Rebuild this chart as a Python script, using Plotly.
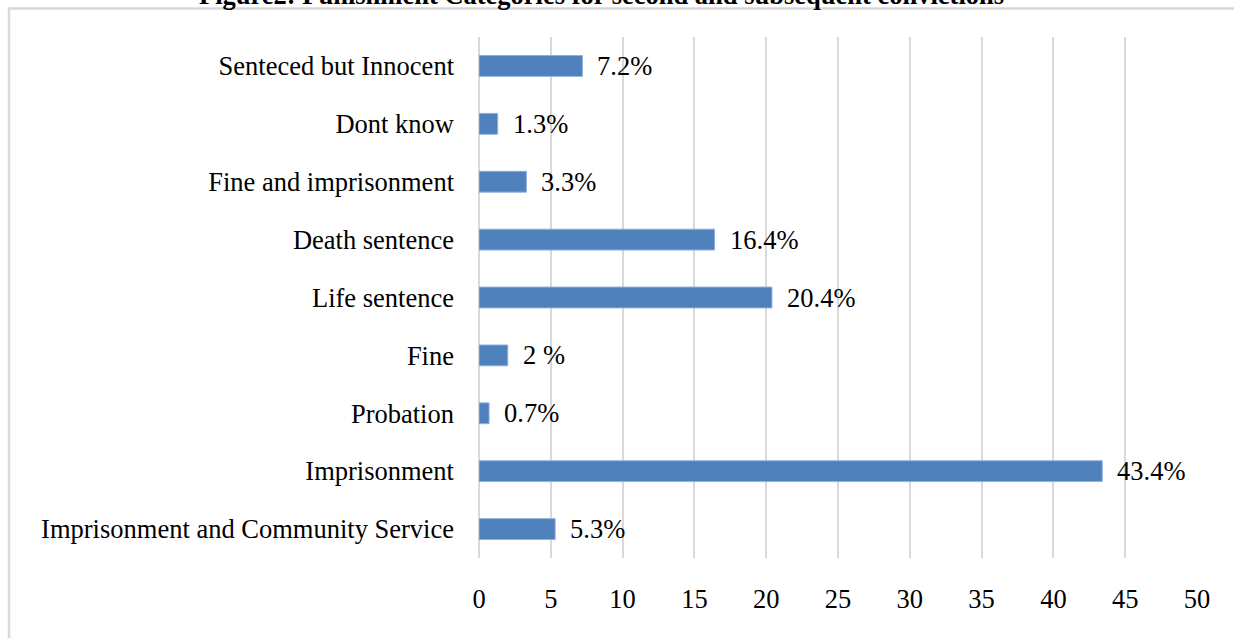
import plotly.graph_objects as go

categories = [
    "Imprisonment and Community Service",
    "Imprisonment",
    "Probation",
    "Fine",
    "Life sentence",
    "Death sentence",
    "Fine and imprisonment",
    "Dont know",
    "Senteced but Innocent",
]
values = [5.3, 43.4, 0.7, 2, 20.4, 16.4, 3.3, 1.3, 7.2]
value_labels = ["5.3%", "43.4%", "0.7%", "2 %", "20.4%", "16.4%", "3.3%", "1.3%", "7.2%"]
x_ticks = [0, 5, 10, 15, 20, 25, 30, 35, 40, 45, 50]
title_text = "Figure2: Punishment Categories for second and subsequent convictions"

FONT = "Liberation Serif, Times New Roman, serif"
FS = 26.5

fig = go.Figure()
fig.add_trace(go.Bar(
    y=categories,
    x=values,
    orientation="h",
    width=0.36,
    marker=dict(color="#4F81BD", line=dict(color="#8FAEDB", width=1)),
    hoverinfo="skip",
))

for cat, v, lab in zip(categories, values, value_labels):
    fig.add_annotation(
        x=v, y=cat, xref="x", yref="y",
        text=lab, showarrow=False,
        xanchor="left", yanchor="middle",
        xshift=13,
        font=dict(family=FONT, size=FS, color="#000000"),
    )

fig.add_annotation(
    x=(601.5 - 479) / 718, y=(558 - (-5)) / 521,
    xref="paper", yref="paper",
    text="<b>" + title_text + "</b>", showarrow=False,
    xanchor="center", yanchor="middle",
    font=dict(family=FONT, size=FS, color="#000000"),
)

fig.add_shape(
    type="rect", xref="paper", yref="paper",
    x0=(9 - 479) / 718, x1=1.2,
    y0=-0.3, y1=(558 - 8.5) / 521,
    line=dict(color="#D9D9D9", width=2.5),
    fillcolor="rgba(0,0,0,0)",
    layer="below",
)

fig.update_layout(
    width=1234, height=638,
    margin=dict(l=479, r=37, t=37, b=80),
    paper_bgcolor="white",
    plot_bgcolor="white",
    showlegend=False,
    font=dict(family=FONT, size=FS, color="#000000"),
    bargap=0.64,
)
fig.update_xaxes(
    range=[0, 50],
    tickvals=x_ticks,
    ticktext=[str(t) for t in x_ticks],
    showgrid=True, gridcolor="#D9D9D9", gridwidth=2,
    zeroline=True, zerolinecolor="#D9D9D9", zerolinewidth=2,
    showline=False,
    ticks="",
    ticklabelstandoff=22,
    tickfont=dict(family=FONT, size=FS, color="#000000"),
    fixedrange=True,
)
fig.update_yaxes(
    categoryorder="array", categoryarray=categories,
    range=[-0.5, len(categories) - 0.5],
    showgrid=False, zeroline=False, showline=False,
    ticks="",
    ticklabelstandoff=24,
    tickfont=dict(family=FONT, size=FS, color="#000000"),
    fixedrange=True,
)

fig.write_html("out.html")
